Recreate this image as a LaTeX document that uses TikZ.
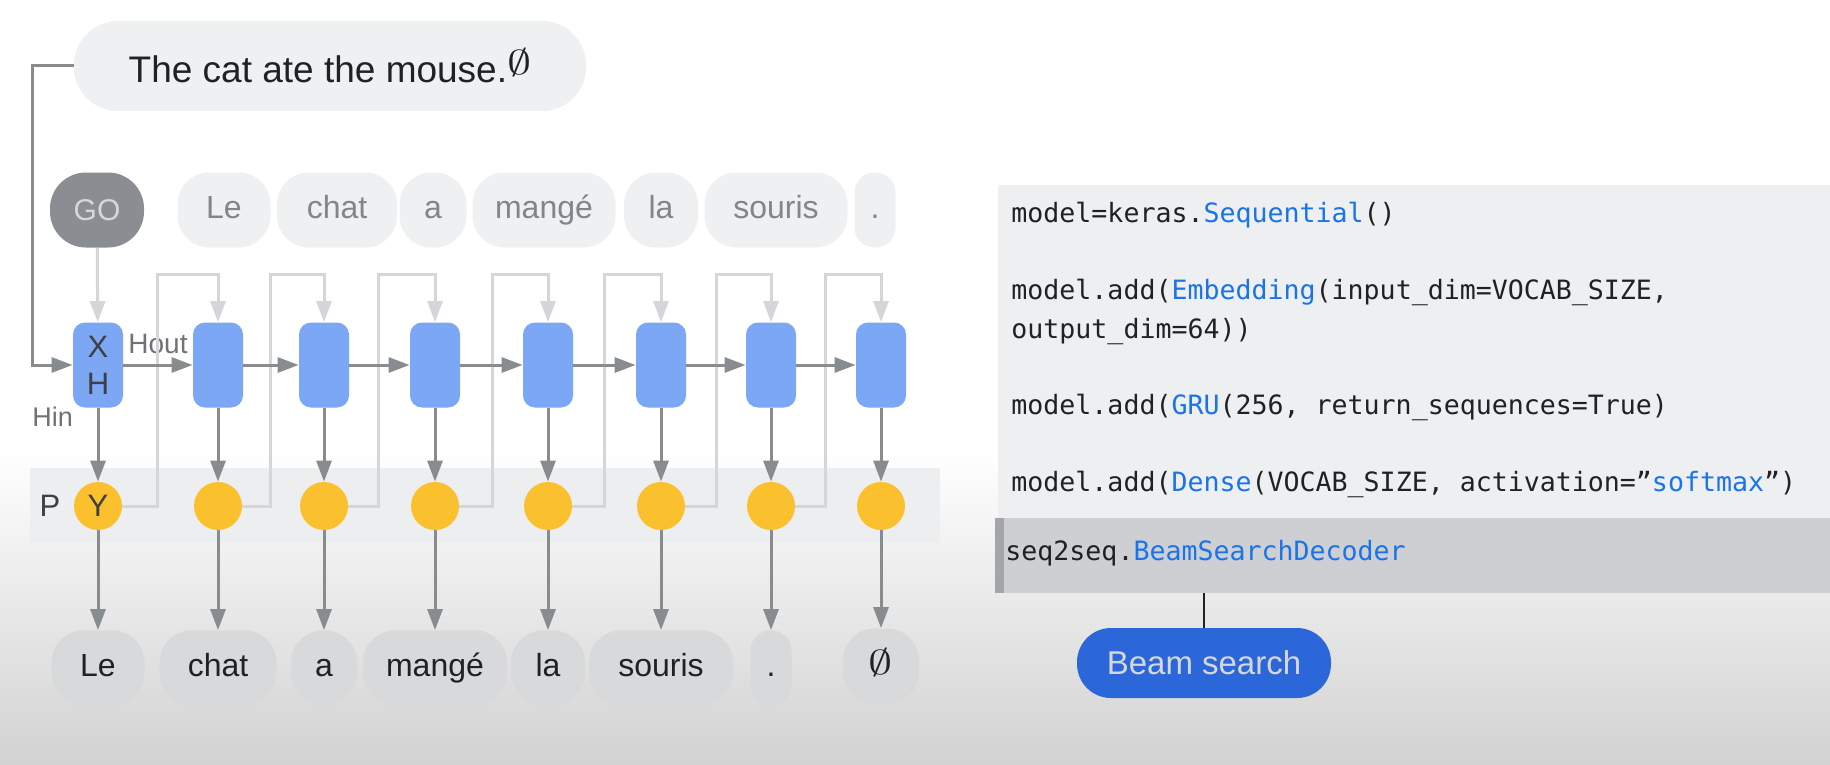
\documentclass[tikz,border=0pt]{standalone}
\usepackage{fontspec}
\usepackage{graphicx}
\setmainfont{Liberation Sans}
\setmonofont{DejaVu Sans Mono}
\usetikzlibrary{arrows.meta}

\definecolor{cellblue}{HTML}{7BA7F5}
\definecolor{outyellow}{HTML}{FBC02D}
\definecolor{arrowgray}{HTML}{898C8F}
\definecolor{fbgray}{HTML}{D4D6D9}
\definecolor{pillgray}{HTML}{EEF0F2}
\definecolor{pilltext}{HTML}{80868B}
\definecolor{outpill}{HTML}{D8D9DB}
\definecolor{inktext}{HTML}{202124}
\definecolor{labeltext}{HTML}{3C4043}
\definecolor{softtext}{HTML}{6F7378}
\definecolor{codeblue}{HTML}{1A73E8}
\definecolor{codebg}{HTML}{EEEFF1}
\definecolor{decodebg}{HTML}{CDCFD2}
\definecolor{decodeedge}{HTML}{A3A5A8}
\definecolor{beamblue}{HTML}{2B67D8}
\definecolor{gobg}{HTML}{8A8D91}
\definecolor{gotext}{HTML}{D5D7DA}
\definecolor{bandgray}{HTML}{ECEEF0}
\definecolor{bgbottom}{HTML}{D2D2D2}

\newcommand{\stopsign}{\scalebox{1.4}[1]{$\emptyset$}}

\tikzstyle{cell} = [rectangle, rounded corners=6pt, minimum width=25pt, minimum height=42.5pt, inner sep=0pt, fill=cellblue, text=labeltext, align=center, font=\fontsize{15.5}{18.5}\selectfont]
\tikzstyle{pred} = [circle, minimum size=24pt, inner sep=0pt, fill=outyellow, text=labeltext, font=\fontsize{15.5}{15.5}\selectfont]
\tikzstyle{intoken} = [rectangle, rounded corners=16pt, minimum height=37.5pt, inner sep=0pt, text height=11.5pt, text depth=3.5pt, fill=pillgray, text=pilltext, font=\fontsize{16}{16}\selectfont]
\tikzstyle{outtoken} = [intoken, fill=outpill, text=inktext]
\tikzstyle{gotoken} = [rectangle, rounded corners=18pt, minimum width=47pt, minimum height=37.5pt, inner sep=0pt, fill=gobg, text=gotext, font=\fontsize{15}{15}\selectfont]
\tikzstyle{sentence} = [rectangle, rounded corners=22pt, minimum width=256pt, minimum height=45pt, fill=pillgray, text=inktext, font=\fontsize{18.5}{18.5}\selectfont]
\tikzstyle{codeline} = [anchor=west, inner sep=0pt, text height=9.5pt, text depth=3pt, text=inktext, font=\ttfamily\fontsize{13.3}{13.3}\selectfont]
\tikzstyle{beam} = [rectangle, rounded corners=17pt, minimum width=127pt, minimum height=35pt, fill=beamblue, text=gotext, font=\fontsize{16.5}{16.5}\selectfont]
\tikzstyle{flow} = [draw=arrowgray, line width=1.5pt, -{Triangle[length=10.5pt,width=7.5pt]}]
\tikzstyle{feedback} = [draw=fbgray, line width=1.5pt, -{Triangle[length=10.5pt,width=7.5pt]}]

\begin{document}
\begin{tikzpicture}[x=0.5pt, y=-0.5pt]
    \useasboundingbox (0,0) rectangle (1830,765);
    \fill[white] (0,0) rectangle (1830,765);
    \shade[top color=white, bottom color=bgbottom] (0,450) rectangle (1830,765);

    % code panel
    \fill[codebg] (998,185) rectangle (1830,518);
    \node at (1412.5,555.5) [rectangle, minimum width=417.5pt, minimum height=37.5pt, inner sep=0pt, fill=decodebg] (decoder) {};
    \fill[decodeedge] (995,518) rectangle (1004,593);
    \node at (1011,216) [codeline] (code1) {model=keras.\textcolor{codeblue}{Sequential}()};
    \node at (1011,293) [codeline] (code2) {model.add(\textcolor{codeblue}{Embedding}(input\_dim=VOCAB\_SIZE,};
    \node at (1011,332) [codeline] (code3) {output\_dim=64))};
    \node at (1011,408) [codeline] (code4) {model.add(\textcolor{codeblue}{GRU}(256, return\_sequences=True)};
    \node at (1011,485) [codeline] (code5) {model.add(\textcolor{codeblue}{Dense}(VOCAB\_SIZE, activation=”\textcolor{codeblue}{softmax}”)};
    \node at (1005,554) [codeline] (code6) {seq2seq.\textcolor{codeblue}{BeamSearchDecoder}};
    \node at (1204,663) [beam] (beam) {Beam search};
    \draw[draw=inktext, line width=0.6pt] (decoder.south -| beam.north) -- (beam.north);

    % prediction band
    \fill[bandgray] (30,468) rectangle (940,543);
    \node at (50,506) [text=labeltext, font=\fontsize{15.5}{15.5}\selectfont] (plabel) {P};

    \node at (330,66) [sentence] (sentence) {The cat ate the mouse.\raisebox{4pt}{\fontsize{18}{18}\selectfont\stopsign}};
    \node at (97,210) [gotoken] (go) {GO};
    \node at (224,210) [intoken, minimum width=46.5pt] (in1) {Le};
    \node at (337,210) [intoken, minimum width=60pt] (in2) {chat};
    \node at (433,210) [intoken, minimum width=33.5pt] (in3) {a};
    \node at (544,210) [intoken, minimum width=71.5pt] (in4) {mangé};
    \node at (661,210) [intoken, minimum width=37pt] (in5) {la};
    \node at (776,210) [intoken, minimum width=71.5pt] (in6) {souris};
    \node at (875,210) [intoken, minimum width=20.5pt, rounded corners=10pt] (in7) {.};

    \node at (98,365) [cell] (x1) {X\\H};
    \node at (218,365) [cell] (x2) {};
    \node at (324,365) [cell] (x3) {};
    \node at (435,365) [cell] (x4) {};
    \node at (548,365) [cell] (x5) {};
    \node at (661,365) [cell] (x6) {};
    \node at (771,365) [cell] (x7) {};
    \node at (881,365) [cell] (x8) {};
    \node at (128,344) [anchor=west, inner sep=0pt, text=softtext, font=\fontsize{14}{14}\selectfont] (hout) {Hout};
    \node at (32,417) [anchor=west, inner sep=0pt, text=softtext, font=\fontsize{13.5}{13.5}\selectfont] (hin) {Hin};

    \node at (98,506) [pred] (y1) {Y};
    \node at (218,506) [pred] (y2) {};
    \node at (324,506) [pred] (y3) {};
    \node at (435,506) [pred] (y4) {};
    \node at (548,506) [pred] (y5) {};
    \node at (661,506) [pred] (y6) {};
    \node at (771,506) [pred] (y7) {};
    \node at (881,506) [pred] (y8) {};

    \node at (98,668) [outtoken, minimum width=46.5pt] (out1) {Le};
    \node at (218,668) [outtoken, minimum width=58.5pt] (out2) {chat};
    \node at (324,668) [outtoken, minimum width=33pt] (out3) {a};
    \node at (435,668) [outtoken, minimum width=72pt] (out4) {mangé};
    \node at (548,668) [outtoken, minimum width=37pt] (out5) {la};
    \node at (661,668) [outtoken, minimum width=72pt] (out6) {souris};
    \node at (771,668) [outtoken, minimum width=20.5pt, rounded corners=10pt] (out7) {.};
    \node at (881,666) [outtoken, minimum width=38pt, font=\fontsize{18}{18}\selectfont] (out8) {\stopsign};

    \coordinate (inbend) at (32,66);
    \coordinate (fb1) at (157,274);
    \coordinate (fb2) at (270,274);
    \coordinate (fb3) at (378,274);
    \coordinate (fb4) at (492,274);
    \coordinate (fb5) at (604,274);
    \coordinate (fb6) at (716,274);
    \coordinate (fb7) at (825,274);

    % fed back predictions
    \draw[feedback] (go) -- (x1);
    \draw[feedback] (y1.east) -| (fb1) -| (x2.north);
    \draw[feedback] (y2.east) -| (fb2) -| (x3.north);
    \draw[feedback] (y3.east) -| (fb3) -| (x4.north);
    \draw[feedback] (y4.east) -| (fb4) -| (x5.north);
    \draw[feedback] (y5.east) -| (fb5) -| (x6.north);
    \draw[feedback] (y6.east) -| (fb6) -| (x7.north);
    \draw[feedback] (y7.east) -| (fb7) -| (x8.north);

    \draw[flow] (sentence.west) -- (inbend) |- (x1.west);
    \draw[flow] (x1) -- (x2);
    \draw[flow] (x2) -- (x3);
    \draw[flow] (x3) -- (x4);
    \draw[flow] (x4) -- (x5);
    \draw[flow] (x5) -- (x6);
    \draw[flow] (x6) -- (x7);
    \draw[flow] (x7) -- (x8);

    \draw[flow] (x1) -- (y1);
    \draw[flow] (x2) -- (y2);
    \draw[flow] (x3) -- (y3);
    \draw[flow] (x4) -- (y4);
    \draw[flow] (x5) -- (y5);
    \draw[flow] (x6) -- (y6);
    \draw[flow] (x7) -- (y7);
    \draw[flow] (x8) -- (y8);

    \draw[flow] (y1) -- (out1);
    \draw[flow] (y2) -- (out2);
    \draw[flow] (y3) -- (out3);
    \draw[flow] (y4) -- (out4);
    \draw[flow] (y5) -- (out5);
    \draw[flow] (y6) -- (out6);
    \draw[flow] (y7) -- (out7);
    \draw[flow] (y8) -- (out8);

\end{tikzpicture}
\end{document}
